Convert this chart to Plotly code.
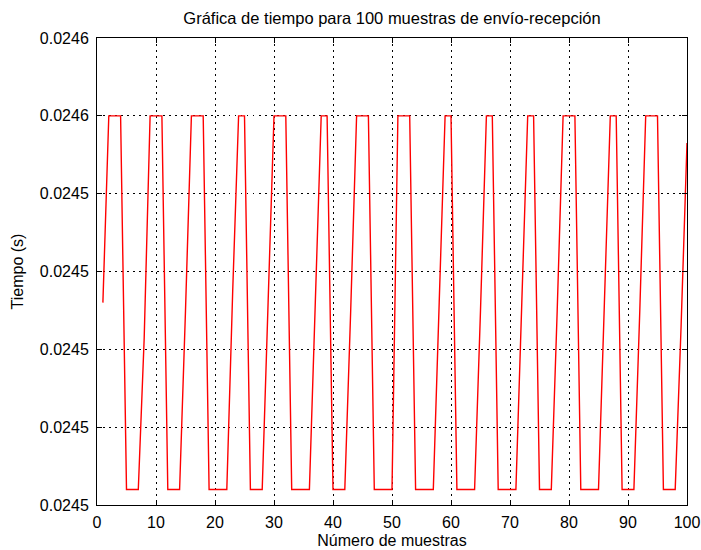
import plotly.graph_objects as go

# ---- data ----
muestra = list(range(1, 101))
tiempo = [
    0.0245452, 0.0245500, 0.0245500, 0.0245500, 0.0245404, 0.0245404, 0.0245404, 0.0245443, 0.0245500, 0.0245500,
    0.0245500, 0.0245404, 0.0245404, 0.0245404, 0.0245450, 0.0245500, 0.0245500, 0.0245500, 0.0245404, 0.0245404,
    0.0245404, 0.0245404, 0.0245455, 0.0245500, 0.0245500, 0.0245404, 0.0245404, 0.0245404, 0.0245452, 0.0245500,
    0.0245500, 0.0245500, 0.0245404, 0.0245404, 0.0245404, 0.0245404, 0.0245452, 0.0245500, 0.0245500, 0.0245404,
    0.0245404, 0.0245404, 0.0245450, 0.0245500, 0.0245500, 0.0245500, 0.0245404, 0.0245404, 0.0245404, 0.0245404,
    0.0245500, 0.0245500, 0.0245500, 0.0245404, 0.0245404, 0.0245404, 0.0245404, 0.0245452, 0.0245500, 0.0245500,
    0.0245404, 0.0245404, 0.0245404, 0.0245404, 0.0245450, 0.0245500, 0.0245500, 0.0245404, 0.0245404, 0.0245404,
    0.0245404, 0.0245452, 0.0245500, 0.0245500, 0.0245404, 0.0245404, 0.0245404, 0.0245450, 0.0245500, 0.0245500,
    0.0245500, 0.0245404, 0.0245404, 0.0245404, 0.0245404, 0.0245452, 0.0245500, 0.0245500, 0.0245404, 0.0245404,
    0.0245404, 0.0245450, 0.0245500, 0.0245500, 0.0245500, 0.0245404, 0.0245404, 0.0245404, 0.0245446, 0.0245493,
]

x_tick_vals = [0, 10, 20, 30, 40, 50, 60, 70, 80, 90, 100]
x_tick_text = ["0", "10", "20", "30", "40", "50", "60", "70", "80", "90", "100"]
y_tick_vals = [0.024540, 0.024542, 0.024544, 0.024546, 0.024548, 0.024550, 0.024552]
y_tick_text = ["0.0245", "0.0245", "0.0245", "0.0245", "0.0245", "0.0246", "0.0246"]

titulo = "Gráfica de tiempo para 100 muestras de envío-recepción"
etiqueta_x = "Número de muestras"
etiqueta_y = "Tiempo (s)"

FONT = "Liberation Sans, Arial, sans-serif"

fig = go.Figure()
fig.add_trace(go.Scatter(
    x=muestra, y=tiempo, mode="lines",
    line=dict(color="#ff0000", width=1.4),
    showlegend=False, hoverinfo="x+y",
))

axis_common = dict(
    showline=True, linecolor="black", linewidth=1, mirror="ticks",
    ticks="inside", ticklen=5, tickcolor="black", tickwidth=1,
    showgrid=True, gridcolor="#000000", gridwidth=1, griddash="1.5px,4.5px",
    zeroline=False, automargin=False,
    tickfont=dict(family=FONT, size=16, color="black"),
)

fig.update_xaxes(
    range=[0, 100], tickmode="array", tickvals=x_tick_vals, ticktext=x_tick_text,
    title=dict(text=etiqueta_x, font=dict(family=FONT, size=16, color="black"), standoff=4),
    ticklabelstandoff=3,
    **axis_common,
)
fig.update_yaxes(
    range=[y_tick_vals[0], y_tick_vals[-1]], tickmode="array",
    tickvals=y_tick_vals, ticktext=y_tick_text,
    title=dict(text=etiqueta_y, font=dict(family=FONT, size=16, color="black"), standoff=12),
    ticklabelstandoff=4,
    **axis_common,
)

fig.update_layout(
    width=701, height=550,
    margin=dict(l=97, r=14, t=38, b=45, autoexpand=False),
    paper_bgcolor="white", plot_bgcolor="white",
    title=dict(text=titulo, x=0.5, xanchor="center", xref="paper",
               y=1 - 18 / 550, yanchor="middle", yref="container", automargin=False,
               font=dict(family=FONT, size=16.5, color="black")),
    font=dict(family=FONT, size=16, color="black"),
)

fig.write_html("out.html", config={"displayModeBar": False},
               post_script="document.body.style.margin='0px';")
